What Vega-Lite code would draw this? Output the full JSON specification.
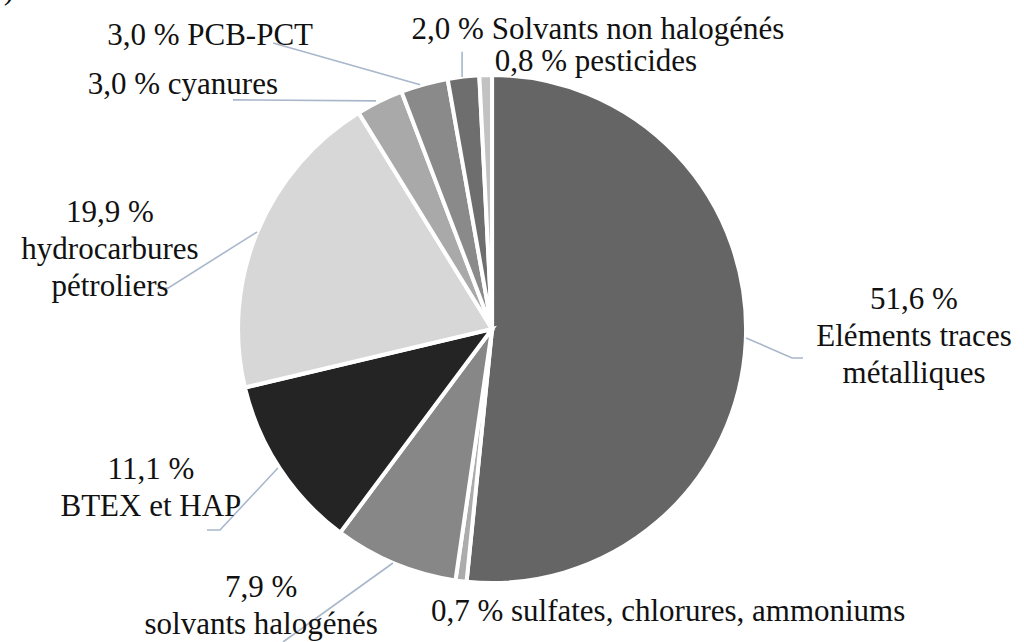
{
  "$schema": "https://vega.github.io/schema/vega-lite/v6.json",
  "width": 1024,
  "height": 642,
  "autosize": {"type": "none"},
  "padding": 0,
  "background": "white",
  "config": {"view": {"stroke": null}},
  "datasets": {
    "slices": [
      {"ord": 1, "name": "Eléments traces métalliques", "pct": 51.6},
      {"ord": 2, "name": "sulfates, chlorures, ammoniums", "pct": 0.7},
      {"ord": 3, "name": "solvants halogénés", "pct": 7.9},
      {"ord": 4, "name": "BTEX et HAP", "pct": 11.1},
      {"ord": 5, "name": "hydrocarbures pétroliers", "pct": 19.9},
      {"ord": 6, "name": "cyanures", "pct": 3.0},
      {"ord": 7, "name": "PCB-PCT", "pct": 3.0},
      {"ord": 8, "name": "Solvants non halogénés", "pct": 2.0},
      {"ord": 9, "name": "pesticides", "pct": 0.8}
    ],
    "labels": [
      {"text": "51,6 %\nEléments traces\nmétalliques", "lx": 1.661, "ly": 0.114},
      {"text": "0,7 % sulfates, chlorures, ammoniums", "lx": 0.693, "ly": -1.114},
      {"text": "7,9 %\nsolvants halogénés", "lx": -0.909, "ly": -1.02},
      {"text": "11,1 %\nBTEX et HAP", "lx": -1.343, "ly": -0.555},
      {"text": "19,9 %\nhydrocarbures\npétroliers", "lx": -1.504, "ly": 0.457},
      {"text": "3,0 % cyanures", "lx": -1.217, "ly": 0.961},
      {"text": "3,0 % PCB-PCT", "lx": -1.11, "ly": 1.154},
      {"text": "2,0 % Solvants non halogénés", "lx": 0.417, "ly": 1.177},
      {"text": "0,8 % pesticides", "lx": 0.409, "ly": 1.051}
    ],
    "leaders": [
      {"seg": "a", "pt": 1, "lx": 1.0, "ly": -0.035},
      {"seg": "a", "pt": 2, "lx": 1.181, "ly": -0.114},
      {"seg": "a", "pt": 3, "lx": 1.224, "ly": -0.114},
      {"seg": "c", "pt": 1, "lx": -0.39, "ly": -0.921},
      {"seg": "c", "pt": 2, "lx": -0.823, "ly": -1.232},
      {"seg": "d", "pt": 1, "lx": -0.843, "ly": -0.547},
      {"seg": "d", "pt": 2, "lx": -1.071, "ly": -0.791},
      {"seg": "d", "pt": 3, "lx": -1.122, "ly": -0.791},
      {"seg": "e", "pt": 1, "lx": -0.925, "ly": 0.382},
      {"seg": "e", "pt": 2, "lx": -1.276, "ly": 0.161},
      {"seg": "e", "pt": 3, "lx": -1.319, "ly": 0.161},
      {"seg": "f", "pt": 1, "lx": -1.02, "ly": 0.902},
      {"seg": "f", "pt": 2, "lx": -0.457, "ly": 0.898},
      {"seg": "g", "pt": 1, "lx": -0.862, "ly": 1.126},
      {"seg": "g", "pt": 2, "lx": -0.283, "ly": 0.961},
      {"seg": "h", "pt": 1, "lx": -0.118, "ly": 1.091},
      {"seg": "h", "pt": 2, "lx": -0.118, "ly": 0.992}
    ],
    "corner": [{"text": ")", "lx": -1.902, "ly": 1.299}]
  },
  "layer": [
    {
      "data": {"name": "slices"},
      "mark": {"type": "arc", "outerRadius": 254, "stroke": "white", "strokeWidth": 4},
      "encoding": {
        "theta": {"field": "pct", "type": "quantitative", "stack": true},
        "order": {"field": "ord", "type": "quantitative"},
        "color": {
          "field": "name",
          "type": "nominal",
          "legend": null,
          "scale": {
            "domain": ["Eléments traces métalliques", "sulfates, chlorures, ammoniums", "solvants halogénés", "BTEX et HAP", "hydrocarbures pétroliers", "cyanures", "PCB-PCT", "Solvants non halogénés", "pesticides"],
            "range": ["#656565", "#acacac", "#878787", "#242424", "#d7d7d7", "#a9a9a9", "#8a8a8a", "#6e6e6e", "#c2c2c2"]
          }
        },
        "x": {"datum": 0, "type": "quantitative", "axis": null, "scale": {"domain": [-1.937, 2.094], "nice": false, "zero": false}},
        "y": {"datum": 0, "type": "quantitative", "axis": null, "scale": {"domain": [-1.232, 1.295], "nice": false, "zero": false}}
      }
    },
    {
      "data": {"name": "leaders"},
      "mark": {"type": "line", "stroke": "#a8b7cb", "strokeWidth": 1.6},
      "encoding": {
        "x": {"field": "lx", "type": "quantitative", "axis": null, "scale": {"domain": [-1.937, 2.094], "nice": false, "zero": false}},
        "y": {"field": "ly", "type": "quantitative", "axis": null, "scale": {"domain": [-1.232, 1.295], "nice": false, "zero": false}},
        "detail": {"field": "seg", "type": "nominal"},
        "order": {"field": "pt", "type": "quantitative"}
      }
    },
    {
      "data": {"name": "labels"},
      "mark": {"type": "text", "font": "Liberation Serif", "fontSize": 31, "lineHeight": 37, "lineBreak": "\n", "align": "center", "baseline": "middle", "color": "#111111"},
      "encoding": {
        "x": {"field": "lx", "type": "quantitative", "axis": null, "scale": {"domain": [-1.937, 2.094], "nice": false, "zero": false}},
        "y": {"field": "ly", "type": "quantitative", "axis": null, "scale": {"domain": [-1.232, 1.295], "nice": false, "zero": false}},
        "text": {"field": "text", "type": "nominal"}
      }
    },
    {
      "data": {"name": "corner"},
      "mark": {"type": "text", "font": "Liberation Serif", "fontSize": 31, "align": "center", "baseline": "alphabetic", "color": "#111111"},
      "encoding": {
        "x": {"field": "lx", "type": "quantitative", "axis": null, "scale": {"domain": [-1.937, 2.094], "nice": false, "zero": false}},
        "y": {"field": "ly", "type": "quantitative", "axis": null, "scale": {"domain": [-1.232, 1.295], "nice": false, "zero": false}},
        "text": {"field": "text", "type": "nominal"}
      }
    }
  ]
}
